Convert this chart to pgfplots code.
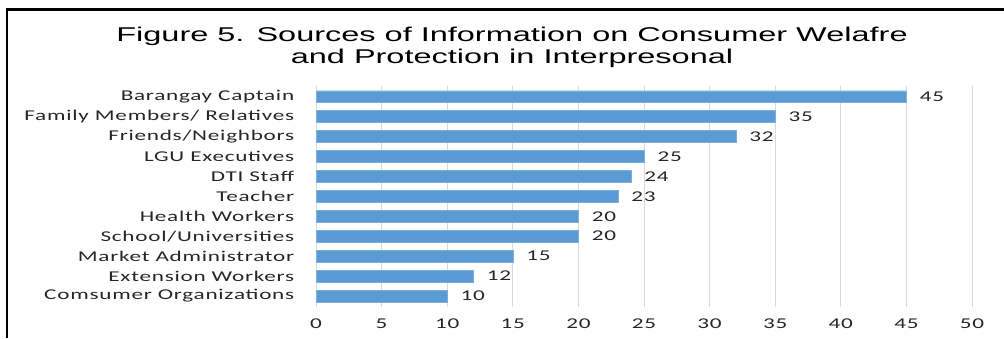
\documentclass[border=0pt]{standalone}
\usepackage{pgfplots}
\pgfplotsset{compat=1.18}
\usepackage{fontspec}
\setmainfont{Carlito}[FakeStretch=1.55, LetterSpace=5]
\newfontfamily\titlefont{Liberation Sans}[FakeStretch=1.63]
\definecolor{barblue}{HTML}{5B9BD5}
\definecolor{gridgray}{HTML}{D9D9D9}
\definecolor{txt}{HTML}{262626}
\begin{document}
\begin{tikzpicture}[x=1bp,y=1bp]
\path[use as bounding box] (0,0) rectangle (1004,-338);
\draw[line width=2.5bp] (7,-338) -- (7,-9.5) -- (1004,-9.5);
\node[font=\titlefont\fontsize{20}{22}\selectfont, text=black, anchor=base, inner sep=0pt] at (512,-41)
  {Figure 5. Sources of Information on Consumer Welafre};
\node[font=\titlefont\fontsize{20}{22}\selectfont, text=black, anchor=base, inner sep=0pt] at (512,-63)
  {and Protection in Interpresonal};
\begin{axis}[
  at={(316bp,-307bp)}, anchor=south west,
  width=656bp, height=221bp, scale only axis,
  xbar, bar width=11.5bp,
  xmin=0, xmax=50, ymin=-0.525, ymax=10.55, y dir=reverse,
  xtick={0,5,...,50}, ytick={0,...,10},
  yticklabels={Barangay Captain, Family Members/ Relatives, Friends/Neighbors, LGU Executives, DTI Staff, Teacher, Health Workers, School/Universities, Market Administrator, Extension Workers, Comsumer Organizations},
  tick style={draw=none},
  axis line style={draw=none},
  xmajorgrids, grid style={gridgray, line width=1bp},
  /pgf/number format/assume math mode=true,
  ticklabel style={font=\fontsize{15}{16}\selectfont, text=txt},
  yticklabel style={xshift=-14bp},
  xticklabel style={yshift=-8bp},
  nodes near coords,
  nodes near coords style={anchor=west, xshift=10bp, font=\fontsize{15}{16}\selectfont, text=txt},
]
\addplot[fill=barblue, draw=barblue!80!white] coordinates {
(45,0) (35,1) (32,2) (25,3) (24,4) (23,5) (20,6) (20,7) (15,8) (12,9) (10,10)};
\end{axis}
\end{tikzpicture}
\end{document}
